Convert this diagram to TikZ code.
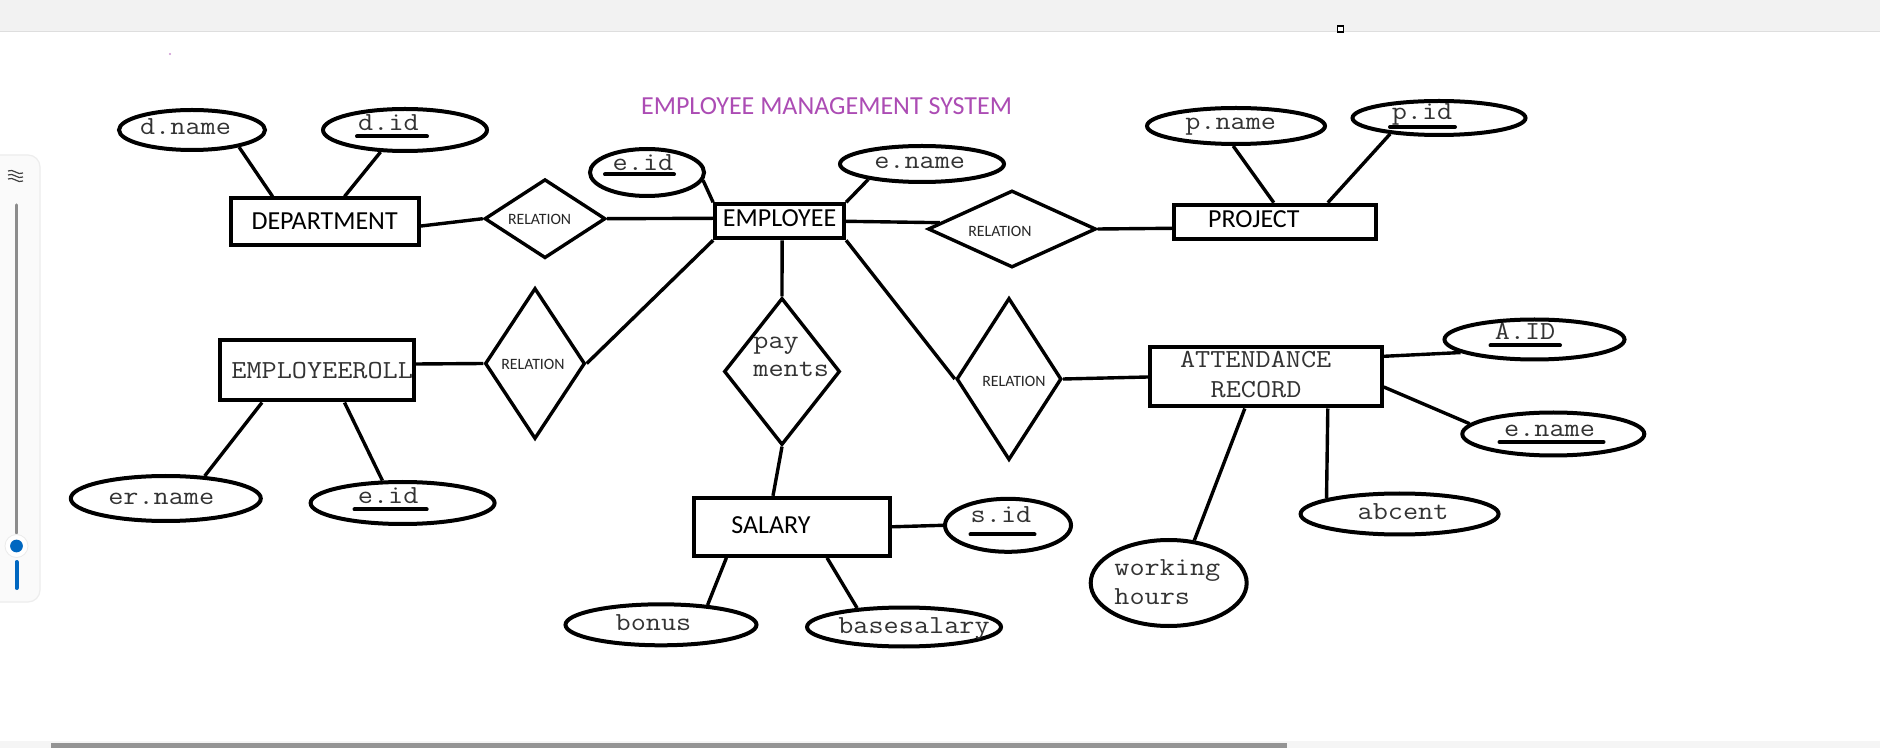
\documentclass[tikz,border=0pt]{standalone}
\usepackage{fontspec}
\setsansfont{Carlito}
\usetikzlibrary{shapes.geometric,calc}
\definecolor{ttlpurple}{RGB}{172,76,180}
\definecolor{uiblue}{RGB}{0,103,192}
\newcommand{\mtx}[1]{\scalebox{1.13}[1]{#1}}
\begin{document}
\begin{tikzpicture}[x=0.5pt,y=-0.5pt,
  ent/.style 2 args={rectangle,draw,line width=2pt,inner sep=0pt,minimum width=#1*0.5pt,minimum height=#2*0.5pt},
  rel/.style 2 args={diamond,draw,line width=1.7pt,inner sep=0pt,minimum width=#1*0.5pt,minimum height=#2*0.5pt},
  attr/.style 2 args={ellipse,draw,line width=2pt,inner sep=0pt,minimum width=#1*0.5pt,minimum height=#2*0.5pt},
  link/.style={line width=1.7pt},
  keyline/.style={line width=2pt,line cap=round},
  monoT/.style={font=\ttfamily\fontsize{13}{16}\selectfont,text=black!80,inner sep=0pt,anchor=base},
  sansT/.style={font=\sffamily\fontsize{13}{16}\selectfont,inner sep=0pt,anchor=base},
  relT/.style={font=\sffamily\fontsize{7.9}{9.5}\selectfont,text=black!85,inner sep=0pt,anchor=base},
]
% page
\fill[white] (0,0) rectangle (1880,748);
\useasboundingbox (0,0) rectangle (1880,748);
% window chrome
\fill[black!5] (0,0) rectangle (1880,32);
\draw[black!13,line width=0.5pt] (0,32) -- (1880,32);
\draw[line width=0.6pt,fill=white] (1337.5,26) rectangle (1343.5,32);
\draw[black!7,line width=0.6pt,fill=black!2,rounded corners=6pt] (-30,155) rectangle (40,602);
\foreach \d in {0,4,8}
  \draw[black!75,line width=0.6pt] (8,171+\d) .. controls (13,168+\d) and (18,176+\d) .. (23,173+\d);
\draw[black!45,line width=1.6pt,line cap=round] (16.5,205) -- (16.5,533);
\draw[uiblue,line width=2pt,line cap=round] (16.5,562) -- (16.5,588);
\fill[white,draw=black!8] (16.5,546) circle[radius=5.75pt];
\fill[uiblue] (16.5,546) circle[radius=3.2pt];
\fill[black!4] (0,741) rectangle (1880,748);
\fill[black!42] (51,742.5) rectangle (1287,748);
\fill[ttlpurple!60] (170,54) circle[radius=0.6pt];

% title
\node[sansT,text=ttlpurple] (title) at (826.6,114.3) {EMPLOYEE MANAGEMENT SYSTEM};

% entities
\node[ent={188}{47}] (dept) at (325,222) {};
\node[ent={129}{34}] (emp) at (779.6,221.3) {};
\node[ent={202}{34}] (proj) at (1274.8,221.7) {};
\node[ent={194}{60}] (roll) at (317,370.5) {};
\node[ent={232}{59}] (att) at (1265.8,377) {};
\node[ent={196}{58}] (sal) at (792,526.8) {};

% relationships
\node[rel={121}{79}] (rel1) at (545,218.7) {};
\node[rel={168}{77}] (rel2) at (1012,229) {};
\node[rel={100}{151}] (rel3) at (535,363.5) {};
\node[rel={116}{147}] (pay) at (782,371.5) {};
\node[rel={105}{162}] (rel4) at (1009,379) {};

% attributes
\node[attr={146}{40}] (dname) at (192,130) {};
\node[attr={164}{42}] (did) at (405,130) {};
\node[attr={114}{47}] (eidT) at (647,172.5) {};
\node[attr={164}{36}] (enameT) at (922,164) {};
\node[attr={178}{36}] (pname) at (1236,126) {};
\node[attr={173}{34}] (pid) at (1439,118) {};
\node[attr={180}{40}] (aid) at (1534.5,339.5) {};
\node[attr={182}{43}] (enameA) at (1553.3,434) {};
\node[attr={198}{41}] (abcent) at (1399.6,514) {};
\node[attr={156}{86}] (work) at (1168.7,583) {};
\node[attr={126}{53}] (sid) at (1008,525.3) {};
\node[attr={191}{41}] (bonus) at (661,624.8) {};
\node[attr={194}{39}] (bsal) at (904,627) {};
\node[attr={190}{45}] (ername) at (165.8,498.5) {};
\node[attr={184}{42}] (eidR) at (402.6,503) {};

% entity texts
\node[sansT] (deptT) at (324.6,230) {DEPARTMENT};
\node[sansT] (empT) at (779.6,227) {EMPLOYEE};
\node[sansT] (projT) at (1253.8,227.7) {PROJECT};
\node[sansT] (salT) at (771,534) {SALARY};
\node[monoT] (attT1) at (1255.7,367.3) {\mtx{ATTENDANCE}};
\node[monoT] (attT2) at (1256,397.3) {\mtx{RECORD}};
\begin{scope}
  \clip ($(roll.north west)+(2,2)$) rectangle ($(roll.south east)+(-2,-2)$);
  \node[monoT,anchor=base west] (rollT) at (231,378.3) {\mtx{EMPLOYEEROLL}};
\end{scope}

% relationship texts
\node[relT] (rel1T) at (539.6,225) {RELATION};
\node[relT] (rel2T) at (1000,236.7) {RELATION};
\node[relT] (rel3T) at (533,370) {RELATION};
\node[relT] (rel4T) at (1014,387) {RELATION};
\node[monoT,anchor=base west] (payT1) at (753,349) {\mtx{pay}};
\node[monoT,anchor=base west] (payT2) at (753,376.7) {\mtx{ments}};

% attribute texts
\node[monoT] (dnameT) at (185.5,135) {\mtx{d.name}};
\node[monoT] (didT) at (388.5,130.7) {\mtx{d.id}};
\node[monoT] (eidTT) at (643,171) {\mtx{e.id}};
\node[monoT] (enameTT) at (919.7,169) {\mtx{e.name}};
\node[monoT] (pnameT) at (1230.7,130) {\mtx{p.name}};
\node[monoT] (pidT) at (1422,120) {\mtx{p.id}};
\node[monoT] (aidT) at (1525,339.3) {\mtx{A.ID}};
\node[monoT] (enameAT) at (1549.5,436.7) {\mtx{e.name}};
\node[monoT] (abcentT) at (1403,519.7) {\mtx{abcent}};
\node[monoT,anchor=base west] (workT1) at (1114,575.7) {\mtx{working}};
\node[monoT,anchor=base west] (workT2) at (1114,604) {\mtx{hours}};
\node[monoT] (sidT) at (1001,523) {\mtx{s.id}};
\node[monoT] (bonusT) at (653.5,630.7) {\mtx{bonus}};
\node[monoT] (bsalT) at (914,633.3) {\mtx{basesalary}};
\node[monoT] (ernameT) at (161.3,504.7) {\mtx{er.name}};
\node[monoT] (eidRT) at (388.2,504) {\mtx{e.id}};

% key underlines
\draw[keyline] (357,136.5) -- (427,136.5);
\draw[keyline] (605,174.5) -- (674,174.5);
\draw[keyline] (1390,127) -- (1455,127);
\draw[keyline] (1490.5,345.5) -- (1560,345.5);
\draw[keyline] (1499.5,442) -- (1603.5,442);
\draw[keyline] (970.5,534.5) -- (1034.5,534.5);
\draw[keyline] (354.5,509.5) -- (426.7,509.5);

% connectors
\draw[link] (dname.-20) -- ($(dept.north west)+(43.6,0)$);
\draw[link] (did.-138) -- ($(dept.north west)+(115.5,0)$);
\draw[link] ($(dept.east)+(0,4)$) -- (rel1.west);
\draw[link] (rel1.east) -- ($(emp.west)+(0,-3)$);
\draw[link] (eidT.-8) -- (emp.north west);
\draw[link] (enameT.-164) -- (emp.north east);
\draw[link] (emp.east) -- (rel2.175);
\draw[link] (rel2.east) -- ($(proj.west)+(0,6.6)$);
\draw[link] (pname.-98) -- ($(proj.north west)+(102,0)$);
\draw[link] (pid.-162) -- ($(proj.north west)+(156,0)$);
\draw[link] (emp.south west) -- (rel3.east);
\draw[link] ($(emp.south west)+(69,0)$) -- (pay.north);
\draw[link] (pay.south) -- ($(sal.north west)+(81,0)$);
\draw[link] (emp.south east) -- (rel4.west);
\draw[link] (rel4.east) -- (att.west);
\draw[link] ($(roll.east)+(0,-6.5)$) -- (rel3.west);
\draw[link] ($(roll.south west)+(44,0)$) -- (ername.30);
\draw[link] ($(roll.south west)+(126.5,0)$) -- (eidR.132);
\draw[link] ($(att.north east)+(0,10.8)$) -- (aid.-170);
\draw[link] ($(att.north east)+(0,41.5)$) -- (enameA.173);
\draw[link] ($(att.south west)+(180,0)$) -- (abcent.168);
\draw[link] ($(att.south west)+(97,0)$) -- (work.59);
\draw[link] (sal.east) -- (sid.west);
\draw[link] ($(sal.south west)+(34.4,0)$) -- (bonus.23);
\draw[link] ($(sal.south west)+(135,0)$) -- (bsal.158);
\end{tikzpicture}
\end{document}
